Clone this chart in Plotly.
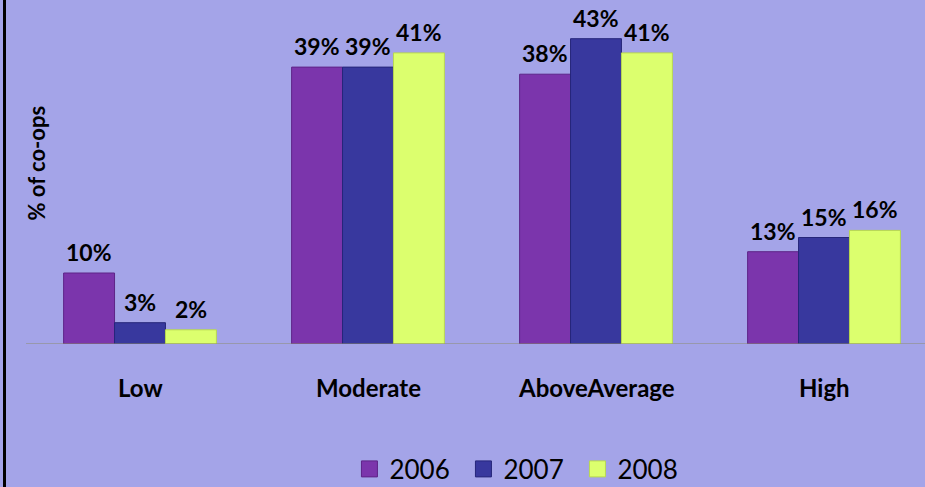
import plotly.graph_objects as go

categories = ["Low", "Moderate", "AboveAverage", "High"]
years = ["2006", "2007", "2008"]
values_2006 = [10, 39, 38, 13]
values_2007 = [3, 39, 43, 15]
values_2008 = [2, 41, 41, 16]
series = [values_2006, values_2007, values_2008]
colors = ["#7B35AC", "#38389E", "#DCFF6E"]
edge_colors = ["#5E2488", "#26267A", "#B8D850"]

BG = "#A4A4E8"
FONT = "Lato"

fig = go.Figure()
for yr, vals, col, ec in zip(years, series, colors, edge_colors):
    fig.add_trace(go.Bar(
        x=categories, y=vals, name=yr, marker=dict(color=col, line=dict(color=ec, width=1)),
        showlegend=False, hoverinfo="skip",
    ))
    # legend proxy with bigger square symbol
    fig.add_trace(go.Scatter(
        x=[None], y=[None], mode="markers", name=yr,
        marker=dict(symbol="square", size=21, color=col, line=dict(color=ec, width=1)),
    ))

# data labels
offsets = [-1, 0, 1]
for vals, off in zip(series, offsets):
    for i, v in enumerate(vals):
        fig.add_annotation(
            x=i, y=v, xref="x", yref="y", text=f"<b>{v}%</b>", showarrow=False,
            xshift=off * 51, yanchor="bottom", yshift=5,
            font=dict(family=FONT, size=23, color="black"),
        )

# category labels
for i, c in enumerate(categories):
    fig.add_annotation(
        x=i, y=(344 - 387) / 344, xref="x", yref="paper", text=f"<b>{c}</b>", showarrow=False,
        yanchor="middle", font=dict(family=FONT, size=24, color="black"),
    )

# y-axis title
fig.add_annotation(
    x=(21 - 26) / 899, y=(344 - 163) / 344, xref="paper", yref="paper",
    text="<b>% of co-ops</b>", textangle=-90, showarrow=False,
    font=dict(family=FONT, size=22, color="black"),
)

fig.update_layout(
    width=925, height=487,
    margin=dict(l=26, r=0, t=0, b=143),
    paper_bgcolor=BG, plot_bgcolor=BG,
    barmode="group", bargap=0.33, bargroupgap=0,
    xaxis=dict(range=[-0.5, 3.443], showticklabels=False, showgrid=False, zeroline=False,
               showline=False, fixedrange=True),
    yaxis=dict(range=[0, 344 / 7.1], showticklabels=False, showgrid=False, zeroline=False,
               showline=False),
    legend=dict(orientation="h", x=0.55, xanchor="center", xref="paper",
                yref="container", y=(487 - 469) / 487, yanchor="middle",
                font=dict(family=FONT, size=26, color="black"), bgcolor="rgba(0,0,0,0)",
                itemwidth=30, entrywidth=69, entrywidthmode="pixels"),
    showlegend=True,
)

# baseline
fig.add_shape(type="line", xref="paper", yref="y", x0=0, x1=1, y0=0, y1=0,
              line=dict(color="#8C8C70", width=1))
# left black border
fig.add_shape(type="line", xref="paper", yref="paper", x0=-21.5 / 899, x1=-21.5 / 899, y0=-143 / 344, y1=1,
              line=dict(color="black", width=3))

fig.write_html("out.html")
